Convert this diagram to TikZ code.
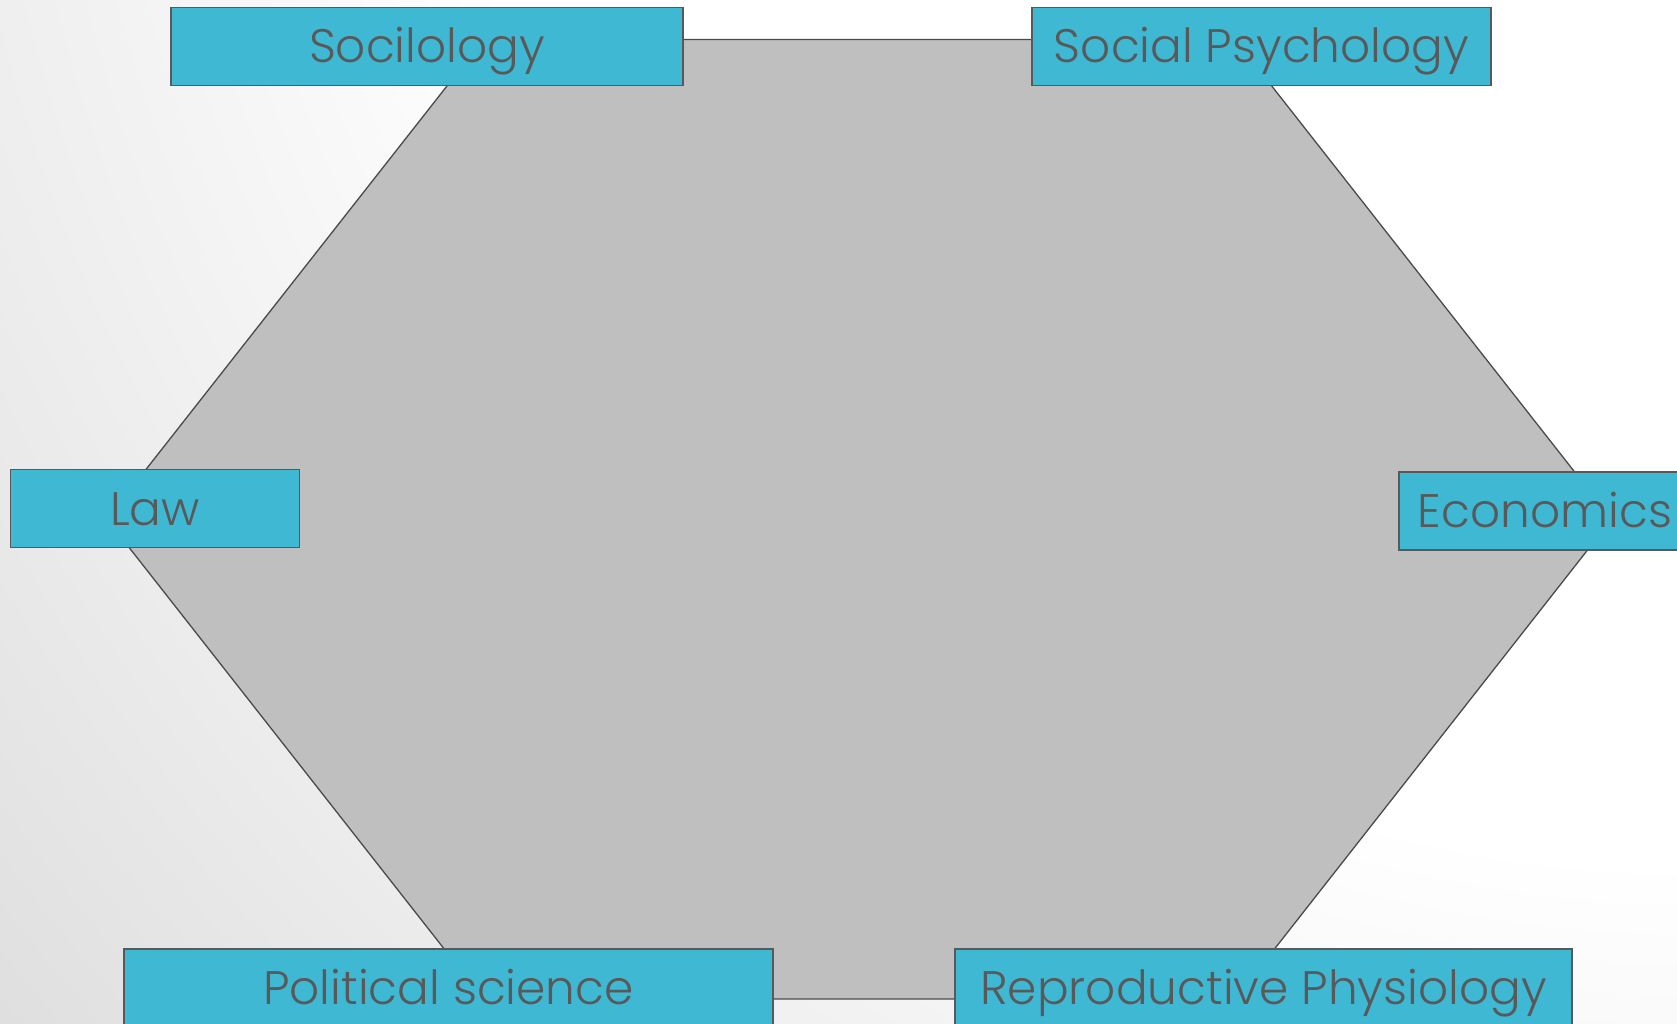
\documentclass[tikz,border=0pt]{standalone}
\usepackage{fontspec}
\setmainfont{Poppins}[UprightFont=* Light]
\definecolor{boxblue}{HTML}{3FB8D4}
\definecolor{inkgray}{HTML}{595959}
\definecolor{hexfill}{HTML}{BFBFBF}
\definecolor{hexline}{HTML}{4A4A4A}
\pgfdeclareradialshading{backdrop}{\pgfpoint{0bp}{0bp}}{%
  color(0bp)=(white); color(14bp)=(white); color(25bp)=(black!13); color(50bp)=(black!13)}
\begin{document}
\begin{tikzpicture}[x=1pt,y=-1pt,
  topic/.style={draw=inkgray, line width=1.8pt, fill=boxblue, rectangle,
    inner sep=0pt, minimum height=78pt, text=inkgray,
    font=\fontsize{47}{54}\selectfont, text height=33pt, text depth=0pt}]
\useasboundingbox (0,0) rectangle (1677,1024);
\clip (0,0) rectangle (1677,1024);
% soft backdrop
\shade[shading=backdrop] (1700,-400) circle (2250);
% central hexagon
\draw[fill=hexfill, draw=hexline, line width=1.3pt]
  (483.4,39.6) -- (1235.3,39.6) -- (1611.7,519.2) -- (1235.3,998.9)
  -- (483.4,998.9) -- (106.9,519.2) -- cycle;
% discipline labels
\node[topic, minimum width=512pt] (soc) at (427,46.5) {Socilology};
\node[topic, minimum width=459pt] (sps) at (1261.5,46.5) {Social Psychology};
\node[topic, minimum width=289pt] (law) at (155,508.5) {Law};
\node[topic, minimum width=292pt] (eco) at (1545,510.6) {Economics};
\node[topic, minimum width=649pt] (pol) at (448.5,987.6) {Political science};
\node[topic, minimum width=617pt] (rep) at (1263.5,987.6) {Reproductive Physiology};
\end{tikzpicture}
\end{document}
